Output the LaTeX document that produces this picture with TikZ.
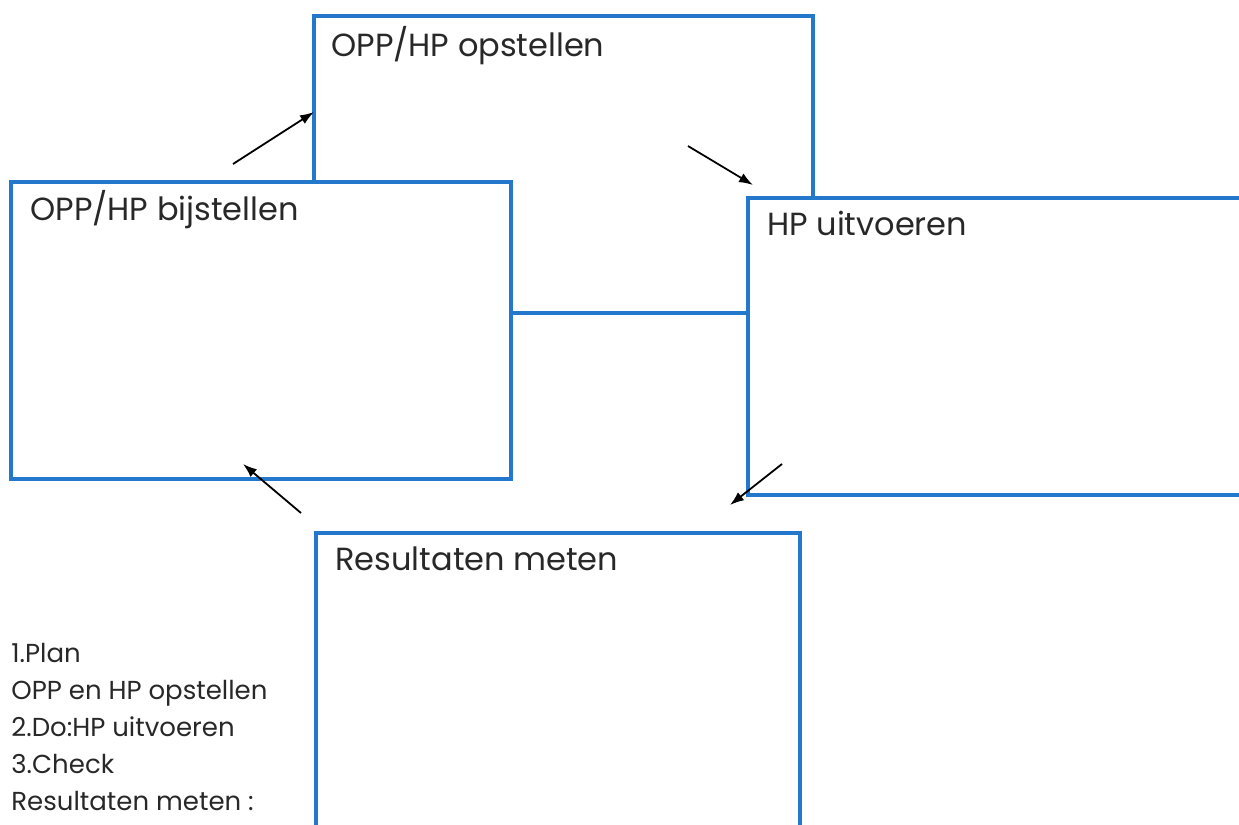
\documentclass[tikz,border=0pt]{standalone}
\usepackage{fontspec}
\setmainfont{Poppins}
\usepackage{tikz}
\usetikzlibrary{arrows.meta,positioning,calc}
\definecolor{boxblue}{RGB}{36,120,204}
\definecolor{ink}{RGB}{40,40,40}

\begin{document}
\begin{tikzpicture}[x=0.5pt, y=-0.5pt, >={Latex[length=7pt,width=5pt]}, every node/.style={text=ink}]
\tikzstyle{stage}=[rectangle, draw=boxblue, line width=1.7pt, fill=white, inner sep=0pt, outer sep=0pt, minimum height=148.5pt]
\tikzstyle{head}=[anchor=base west, inner sep=0pt, font=\fontsize{16}{19}\selectfont]
\tikzstyle{note}=[anchor=base west, inner sep=0pt, font=\fontsize{13}{15}\selectfont]
\tikzstyle{turn}=[->, line width=0.9pt, black]
\useasboundingbox (0,0) rectangle (1239,825);
\clip (0,0) rectangle (1239,825);
% boxes, back to front
\node[stage, minimum width=249.5pt] (opstellen) at (563.5,164.5) {};
\node[stage, minimum width=250pt] (bijstellen) at (261,330.5) {};
\node[stage, minimum width=250pt] (uitvoeren) at (998,346.5) {};
\node[stage, minimum width=242pt] (meten) at (558,681.5) {};
% titles
\node[head] (opstellenT) at ($(opstellen.north west)+(17,40)$) {OPP/HP opstellen};
\node[head] (bijstellenT) at ($(bijstellen.north west)+(19,38)$) {OPP/HP bijstellen};
\node[head] (uitvoerenT) at ($(uitvoeren.north west)+(19,37)$) {HP uitvoeren};
\node[head] (metenT) at ($(meten.north west)+(19,37)$) {Resultaten meten};
% arrows round the cycle
\coordinate (p1) at (233,164); \coordinate (q1) at (314,112);
\coordinate (p2) at (688,146); \coordinate (q2) at (753,185);
\coordinate (p3) at (782,464); \coordinate (q3) at (730,505);
\coordinate (p4) at (301,513); \coordinate (q4) at (243,464);
\draw[turn] (p1) -- (q1);
\draw[turn] (p2) -- (q2);
\draw[turn] (p3) -- (q3);
\draw[turn] (p4) -- (q4);
% legend
\foreach \txt [count=\i] in {1.Plan, OPP en HP opstellen, 2.Do:HP uitvoeren, 3.Check, Resultaten meten :}
  \node[note] (line\i) at (11,{662.5+37*(\i-1)}) {\txt};
\end{tikzpicture}
\end{document}
